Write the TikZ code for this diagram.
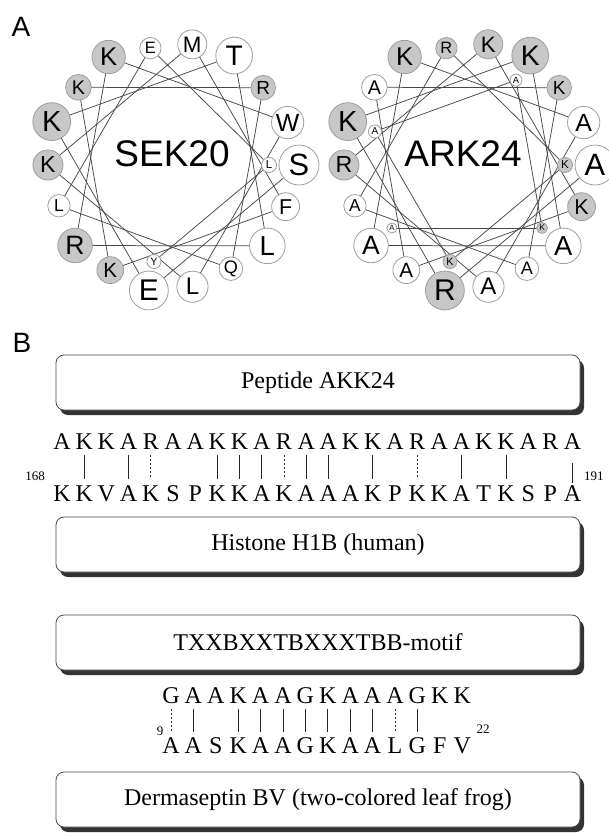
\documentclass[tikz,border=0pt]{standalone}
\usepackage{fontspec}
\setmainfont{Liberation Serif}
\setsansfont{Liberation Sans}
\usetikzlibrary{calc,shadows}
\definecolor{resgray}{gray}{0.78}
\definecolor{ringgray}{gray}{0.62}
\definecolor{linegray}{gray}{0.28}
\newcommand\wheelcoords[4]{%
  \foreach \i/\l/\g in {#4} {
    \pgfmathsetmacro\ang{-100*(\i-1)}
    \pgfmathsetmacro\rr{\i<19 ? 20-0.55*(\i-1) : 7.5-0.5*(\i-19)}
    \pgfmathsetmacro\dd{\i<19 ? 108+\rr : 98}
    \coordinate (#1\i) at ({#2+\dd*cos(\ang)},{#3-\dd*sin(\ang)});
  }}
\newcommand\wheelcircles[2]{%
  \foreach \i/\l/\g in {#2} {
    \pgfmathsetmacro\rr{\i<19 ? 20-0.55*(\i-1) : 7.5-0.5*(\i-19)}
    \pgfmathsetmacro\fs{1.54*\rr}
    \node[res,fill=\g,minimum size=2*\rr,font=\sffamily\fontsize{\fs}{\fs}\selectfont] (#1c\i) at (#1\i) {\l};
  }}
\begin{document}
\begin{tikzpicture}[x=1pt,y=-1pt,
  res/.style={circle,draw=ringgray,line width=0.8pt,inner sep=0pt},
  spoke/.style={draw=linegray,line width=0.75pt},
  seqletter/.style={anchor=base,inner sep=0pt,font=\fontsize{24}{24}\selectfont},
  numlabel/.style={inner sep=0pt,font=\fontsize{13}{13}\selectfont},
  infobox/.style={rounded corners=8pt,draw=black!70,line width=0.8pt,fill=white,
    minimum width=524pt,minimum height=55pt,font=\fontsize{24}{24}\selectfont,
    drop shadow={shadow xshift=4pt,shadow yshift=-5pt,fill=black!80,opacity=1}},
  match/.style={line width=0.8pt,draw=black!85},
  weak/.style={line width=0.8pt,draw=black!85,dash pattern=on 2pt off 2pt},
  panel/.style={font=\sffamily\fontsize{28}{28}\selectfont,inner sep=0pt},
  wheelname/.style={font=\sffamily\fontsize{37}{37}\selectfont,inner sep=0pt}
]
\useasboundingbox (0,0) rectangle (609,833);
\fill[white] (0,0) rectangle (609,833);

% ---------- panel A ----------
\node[panel] (labA) at (21,27) {A};

\def\seklist{1/S/white,2/E/white,3/K/resgray,4/T/white,5/L/white,6/R/resgray,7/K/resgray,8/W/white,9/L/white,10/K/resgray,11/M/white,12/F/white,13/K/resgray,14/K/resgray,15/R/resgray,16/Q/white,17/L/white,18/E/white,19/L/white,20/Y/white}
\def\arklist{1/A/white,2/R/resgray,3/K/resgray,4/K/resgray,5/A/white,6/A/white,7/K/resgray,8/A/white,9/A/white,10/R/resgray,11/K/resgray,12/K/resgray,13/A/white,14/A/white,15/K/resgray,16/A/white,17/A/white,18/R/resgray,19/K/resgray,20/K/resgray,21/A/white,22/A/white,23/K/resgray,24/A/white}

\expandafter\wheelcoords\expandafter{\expandafter s\expandafter}\expandafter{\expandafter1\expandafter7\expandafter1\expandafter}\expandafter{\expandafter1\expandafter6\expandafter5\expandafter}\expandafter{\seklist}
\expandafter\wheelcoords\expandafter{\expandafter a\expandafter}\expandafter{\expandafter4\expandafter6\expandafter7\expandafter}\expandafter{\expandafter1\expandafter6\expandafter5\expandafter}\expandafter{\arklist}

\foreach \i in {1,...,19} {\pgfmathtruncatemacro\j{\i+1}\draw[spoke] (s\i) -- (s\j);}
\foreach \i in {1,...,23} {\pgfmathtruncatemacro\j{\i+1}\draw[spoke] (a\i) -- (a\j);}

\expandafter\wheelcircles\expandafter{\expandafter s\expandafter}\expandafter{\seklist}
\expandafter\wheelcircles\expandafter{\expandafter a\expandafter}\expandafter{\arklist}

\node[wheelname] (sekname) at (172,154) {SEK20};
\node[wheelname] (arkname) at (463,154) {ARK24};

% ---------- panel B ----------
\node[panel] (labB) at (22,343) {B};

\node[infobox] (box1) at (318,382.5) {Peptide AKK24};
\node[infobox] (box2) at (318,544.5) {Histone H1B (human)};
\node[infobox] (box3) at (318,642.5) {TXXBXXTBXXXTBB-motif};
\node[infobox] (box4) at (318,799.5) {Dermaseptin BV (two-colored leaf frog)};

\foreach \l [count=\n from 0] in {A,K,K,A,R,A,A,K,K,A,R,A,A,K,K,A,R,A,A,K,K,A,R,A}
  \node[seqletter] (t\n) at ({62+22.2*\n},449) {\l};
\foreach \l [count=\n from 0] in {K,K,V,A,K,S,P,K,K,A,K,A,A,A,K,P,K,K,A,T,K,S,P,A}
  \node[seqletter] (u\n) at ({62+22.2*\n},501) {\l};
\foreach \n in {1,3,7,8,9,11,12,14,18,20}
  \draw[match] (t\n.base |- 0,455) -- (t\n.base |- 0,479);
\foreach \n in {4,10,16}
  \draw[weak] (t\n.base |- 0,455) -- (t\n.base |- 0,479);
\draw[match] (t23.base |- 0,463) -- (t23.base |- 0,483);
\node[numlabel] (n168) at (35,476) {168};
\node[numlabel,anchor=west] (n191) at (584,476) {191};

\foreach \l [count=\n from 0] in {G,A,A,K,A,A,G,K,A,A,A,G,K,K}
  \node[seqletter] (g\n) at ({171+22.4*\n},703) {\l};
\foreach \l [count=\n from 0] in {A,A,S,K,A,A,G,K,A,A,L,G,F,V}
  \node[seqletter] (h\n) at ({171+22.4*\n},753) {\l};
\foreach \n in {1,3,4,5,6,7,8,9,11}
  \draw[match] (g\n.base |- 0,709) -- (g\n.base |- 0,732);
\foreach \n in {0,10}
  \draw[weak] (g\n.base |- 0,709) -- (g\n.base |- 0,732);
\node[numlabel] (n9) at (160,731) {9};
\node[numlabel] (n22) at (483,729) {22};
\end{tikzpicture}
\end{document}
